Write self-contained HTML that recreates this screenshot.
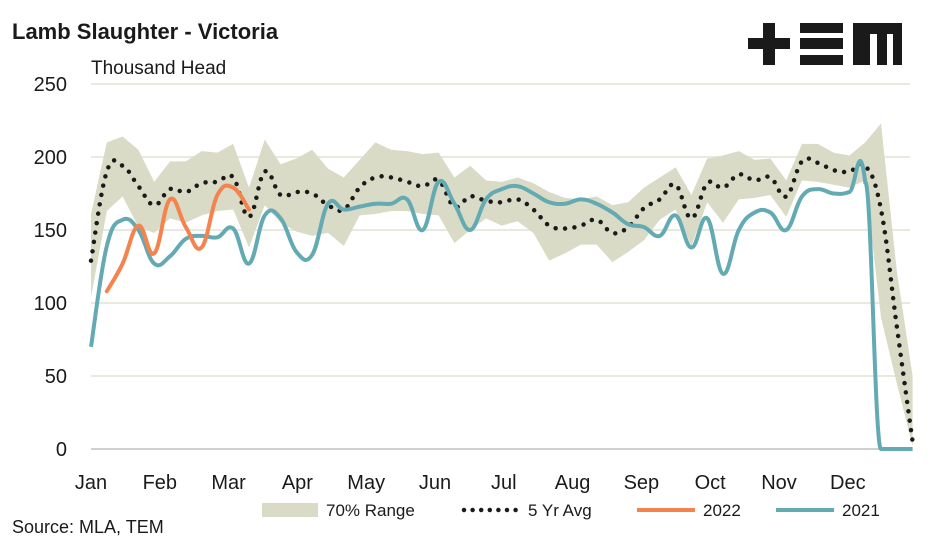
<!DOCTYPE html>
<html><head><meta charset="utf-8"><style>
body{margin:0;background:#fff;}
svg{display:block;font-family:"Liberation Sans",sans-serif;}
</style></head><body>
<svg id="chart" width="947" height="543" viewBox="0 0 947 543" xmlns="http://www.w3.org/2000/svg">
<text x="12" y="39" font-size="22" font-weight="bold" fill="#1a1a1a">Lamb Slaughter - Victoria</text>
<text x="91" y="74" font-size="19" fill="#1a1a1a">Thousand Head</text>
<g fill="#1a1a1a">
<rect x="748" y="38" width="42" height="11"/><rect x="763" y="23" width="12" height="42"/>
<rect x="800" y="23" width="43" height="10"/><rect x="800" y="38" width="43" height="11"/><rect x="800" y="55" width="43" height="10"/>
<rect x="853" y="23" width="49" height="42"/><rect x="870" y="34" width="7" height="31" fill="#fff"/><rect x="887" y="34" width="6" height="31" fill="#fff"/>
</g>
<g id="grid"></g><g id="yticks"></g><g id="xticks"></g>
<path id="band" fill="#d9dbc6"/>
<path id="avg" fill="none" stroke="#1a1a1a" stroke-width="4.5" stroke-linecap="round" stroke-dasharray="0 9.5"/>
<path id="s2021" fill="none" stroke="#63aab3" stroke-width="4"/>
<path id="s2022" fill="none" stroke="#f4834d" stroke-width="4" stroke-linecap="round"/>
<text x="12" y="533" font-size="18" fill="#1a1a1a">Source: MLA, TEM</text>
<g font-size="17" fill="#1a1a1a">
<rect x="262" y="503" width="56" height="14" fill="#d9dbc6"/>
<text x="326" y="516">70% Range</text>
<line x1="464" y1="510" x2="516" y2="510" stroke="#1a1a1a" stroke-width="4.5" stroke-linecap="round" stroke-dasharray="0 8.6"/>
<text x="528" y="516">5 Yr Avg</text>
<line x1="637" y1="510" x2="695" y2="510" stroke="#f4834d" stroke-width="4"/>
<text x="703" y="516">2022</text>
<line x1="776" y1="510" x2="834" y2="510" stroke="#63aab3" stroke-width="4"/>
<text x="842" y="516">2021</text>
</g>
</svg>
<script>
const months=["Jan","Feb","Mar","Apr","May","Jun","Jul","Aug","Sep","Oct","Nov","Dec"];
const yTicks=[0,50,100,150,200,250];
const bandHigh=[161,210,214,205,183,197,197,204,203,209,179,212,195,199,205,192,186,198,210,205,204,202,203,186,194,184,183,186,182,176,172,171,173,167,169,179,186,193,174,199,201,204,198,199,184,209,209,203,201,210,223,122,50];
const bandLow=[104,163,173,152,148,158,155,160,163,164,138,167,155,149,146,148,139,160,161,163,163,161,160,141,150,158,153,156,148,129,134,140,140,128,135,143,157,164,139,169,155,171,172,174,159,184,183,181,179,184,90,45,2];
const avg5=[129,190,194,180,167,178,176,182,183,186,159,190,174,176,175,167,164,179,186,186,183,180,184,166,173,170,169,171,164,153,151,153,157,148,152,165,171,181,158,182,179,188,184,186,173,197,196,191,190,194,164,84,5];
const y2021=[70,139,157,150,127,132,144,146,145,151,127,160,158,135,133,168,164,166,168,168,171,150,183,168,150,171,178,180,175,169,168,171,168,162,154,152,146,160,138,158,120,150,162,162,150,173,178,175,176,183,0,0,0];
const y2022=[null,108,127,153,134,171,152,138,174,179,164];
const X0=91,WK=15.8,Y0=449,YS=1.46;
const xs=i=>X0+i*WK, ys=v=>Y0-v*YS;
const NS="http://www.w3.org/2000/svg";
function mk(t,a,p){const e=document.createElementNS(NS,t);for(const k in a)e.setAttribute(k,a[k]);p.appendChild(e);return e;}
const grid=document.getElementById('grid'),yt=document.getElementById('yticks'),xt=document.getElementById('xticks');
yTicks.forEach(v=>{
 if(v>0){const l=mk('line',{x1:91,x2:910,y1:ys(v),y2:ys(v),stroke:'#e9eadf','stroke-width':2},grid);
 
 }
 const t=mk('text',{x:67,y:ys(v)+7,'text-anchor':'end','font-size':20,fill:'#1a1a1a'},yt);t.textContent=v;
 
 
});
const ax=mk('line',{x1:91,x2:910,y1:Y0,y2:Y0,stroke:'#d0d0d0','stroke-width':2},grid);


months.forEach((m,i)=>{const t=mk('text',{x:91+i*68.8,y:489,'text-anchor':'middle','font-size':20,fill:'#1a1a1a'},xt);t.textContent=m;
 
 });
function pts(arr){const p=[];arr.forEach((v,i)=>{if(v!==null)p.push([xs(i),ys(v)]);});return p;}
function smooth(p){let d='M'+p[0][0]+','+p[0][1];const t=0.2;
 for(let i=0;i<p.length-1;i++){const a=p[Math.max(i-1,0)],b=p[i],c=p[i+1],e=p[Math.min(i+2,p.length-1)];
 let c1y=b[1]+(c[1]-a[1])*t,c2y=c[1]-(e[1]-b[1])*t;
 if(Math.abs(c[1]-b[1])>120){c1y=b[1];c2y=c[1];}
 c1y=Math.min(c1y,Y0);c2y=Math.min(c2y,Y0);
 d+=' C'+(b[0]+(c[0]-a[0])*t)+','+c1y+' '+(c[0]-(e[0]-b[0])*t)+','+c2y+' '+c[0]+','+c[1];}return d;}
function poly(p){return 'M'+p.map(q=>q[0]+','+q[1]).join(' L');}
const hi=pts(bandHigh),lo=pts(bandLow).reverse();
document.getElementById('band').setAttribute('d',poly(hi)+' L'+lo.map(q=>q[0]+','+q[1]).join(' L')+' Z');
document.getElementById('avg').setAttribute('d',smooth(pts(avg5)));
document.getElementById('s2021').setAttribute('d',smooth(pts(y2021)));
document.getElementById('s2022').setAttribute('d',smooth(pts(y2022)));
</script>
</body></html>
